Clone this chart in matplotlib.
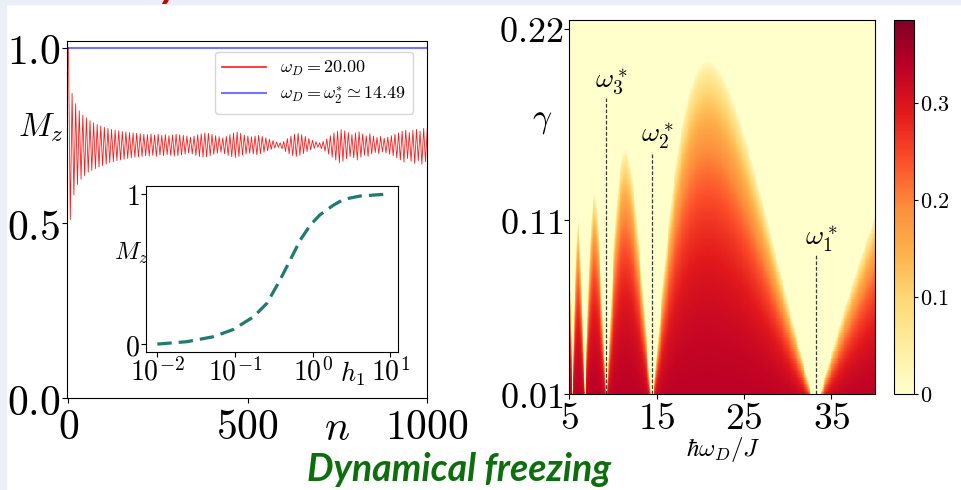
import numpy as np
import matplotlib
matplotlib.use("Agg")
import matplotlib.pyplot as plt
from matplotlib.patches import Rectangle
from matplotlib.ticker import NullLocator

plt.rcParams["mathtext.fontset"] = "cm"

# --- left panel: M_z(n), one low/high pair per drive cycle
mz_low = [0.510, 0.580, 0.610, 0.625, 0.635, 0.645, 0.650, 0.655, 0.660, 0.664,
          0.668, 0.672, 0.675, 0.678, 0.680, 0.682, 0.684, 0.686, 0.688, 0.689,
          0.690, 0.692, 0.691, 0.693, 0.690, 0.694, 0.692, 0.695, 0.693, 0.691,
          0.692, 0.694, 0.697, 0.700, 0.697, 0.693, 0.690, 0.688, 0.689, 0.692,
          0.696, 0.699, 0.702, 0.698, 0.693, 0.689, 0.687, 0.690, 0.694, 0.697,
          0.699, 0.697, 0.695, 0.698, 0.702, 0.706, 0.710, 0.714, 0.716, 0.712,
          0.704, 0.697, 0.692, 0.690, 0.693, 0.698, 0.704, 0.709, 0.713, 0.716,
          0.712, 0.705, 0.697, 0.688, 0.680, 0.672, 0.676, 0.684, 0.690, 0.686,
          0.680, 0.688, 0.694, 0.690, 0.697, 0.701, 0.698, 0.703, 0.700, 0.696,
          0.692, 0.686, 0.680, 0.674, 0.684, 0.676, 0.670, 0.678, 0.668, 0.675]
mz_high = [0.870, 0.840, 0.820, 0.808, 0.800, 0.792, 0.786, 0.781, 0.777, 0.773,
           0.770, 0.767, 0.765, 0.763, 0.761, 0.760, 0.758, 0.757, 0.756, 0.755,
           0.753, 0.752, 0.754, 0.751, 0.753, 0.750, 0.752, 0.749, 0.751, 0.753,
           0.752, 0.750, 0.748, 0.745, 0.748, 0.752, 0.755, 0.757, 0.756, 0.753,
           0.749, 0.746, 0.743, 0.747, 0.752, 0.757, 0.759, 0.756, 0.751, 0.748,
           0.746, 0.748, 0.750, 0.747, 0.743, 0.739, 0.735, 0.731, 0.729, 0.733,
           0.741, 0.748, 0.753, 0.756, 0.752, 0.747, 0.741, 0.736, 0.732, 0.729,
           0.733, 0.740, 0.749, 0.757, 0.762, 0.766, 0.763, 0.758, 0.752, 0.757,
           0.760, 0.754, 0.749, 0.755, 0.748, 0.744, 0.747, 0.742, 0.745, 0.749,
           0.753, 0.757, 0.762, 0.765, 0.758, 0.764, 0.767, 0.762, 0.770, 0.768]
cycle_len = 10
n_frozen = [0, 1000]
mz_frozen = [1.0, 1.0]

# --- inset: M_z vs h_1 (log10 h_1)
h1_log = [-2.0, -1.62, -1.28, -1.02, -0.76, -0.59, -0.42, -0.29, -0.16, -0.03,
          0.09, 0.27, 0.40, 0.61, 0.91]
mz_h1 = [0.0, 0.016, 0.049, 0.098, 0.183, 0.272, 0.428, 0.561, 0.695, 0.795,
         0.862, 0.929, 0.967, 0.989, 1.0]

# --- right panel: phase map parameters
h_drive = 80.0          # 2 h0 / hbar, zeros at omega* = h_drive / j_k
gamma_scale = 0.5       # lobe edge gamma_c = gamma_scale * |J0(h_drive / omega)|
order_max = 0.335
omega_star = [33.26, 14.49, 9.24]
omega_star_top = [0.090, 0.149, 0.180]
omega_star_labels = [r"$\omega_1^*$", r"$\omega_2^*$", r"$\omega_3^*$"]
cbar_ticks = [0, 0.1, 0.2, 0.3]


def build_series():
    n = [0]
    mz = [1.0]
    for k in range(len(mz_low)):
        n += [cycle_len * k + cycle_len / 2, cycle_len * (k + 1)]
        mz += [mz_low[k], mz_high[k]]
    return n, mz


fig = plt.figure(figsize=(9.61, 4.90), dpi=100)
fig.add_artist(Rectangle((0, 0.992), 1, 0.008, transform=fig.transFigure,
                         color="#eceef8", zorder=0))
fig.add_artist(Rectangle((0, 0), 0.0065, 1, transform=fig.transFigure,
                         color="#eceef8", zorder=0))
# tail of the slide title, cut by the top edge
fig.text(160 / 961, 1 + 3 / 490, "y", color="#cc0000", fontsize=30,
         fontweight="bold", fontstyle="italic", family="Lato",
         ha="left", va="baseline")

# left panel
ax = fig.add_axes([0.0694, 0.1871, 0.3752, 0.7298])
n, mz = build_series()
ax.plot(n, mz, color="#ff1a1a", lw=0.6, label=r"$\omega_D = 20.00$")
ax.plot(n_frozen, mz_frozen, color="blue", alpha=0.55, lw=1.5,
        label=r"$\omega_D = \omega_2^{*} \simeq 14.49$")
ax.set_xlim(-5, 1000)
ax.set_ylim(0, 1.02)
ax.set_xticks([0, 500, 1000], ["$0$", "$500$", "$1000$"], fontsize=30)
ax.set_yticks([0, 0.5, 1.0], ["$0.0$", "$0.5$", "$1.0$"], fontsize=30)
ax.tick_params(axis="y", pad=1)
ax.tick_params(axis="x", pad=2)
ax.text(-0.01, 0.756, "$M_z$", fontsize=24, ha="right", va="center",
        transform=ax.transAxes)
ax.text(0.7496, -0.083, "$n$", fontsize=30, ha="center", va="center",
        transform=ax.transAxes)
leg = ax.legend(loc="upper right", bbox_to_anchor=(0.961, 0.969),
                borderaxespad=0, fontsize=13, handlelength=2.4,
                labelspacing=0.35)
leg.get_lines()[0].set_linewidth(1.2)

# inset
axi = fig.add_axes([0.1516, 0.2822, 0.2629, 0.3382])
axi.plot(10 ** np.array(h1_log), mz_h1, color="#1f7a70", lw=2.3,
         dashes=(4.5, 2.2))
axi.set_xscale("log")
axi.set_xlim(10 ** -2.15, 10 ** 1.103)
axi.set_ylim(-0.051, 1.056)
axi.set_xticks([1e-2, 1e-1, 1, 10],
               ["$10^{-2}$", "$10^{-1}$", "$10^{0}$", "$10^{1}$"], fontsize=20)
axi.xaxis.set_minor_locator(NullLocator())
axi.set_yticks([0, 1], ["$0$", "$1$"], fontsize=20)
axi.tick_params(axis="y", pad=1)
axi.tick_params(axis="x", pad=1)
axi.text(0.01, 0.596, "$M_z$", fontsize=18, ha="right", va="center",
         transform=axi.transAxes)
axi.text(0.817, -0.05, "$h_1$", fontsize=19, ha="center", va="top",
         transform=axi.transAxes)

# right panel: heat map
axh = fig.add_axes([0.5924, 0.1959, 0.3181, 0.7633])
omega = np.linspace(5, 40, 351)
gamma = np.linspace(0.01, 0.225, 216)
theta = np.linspace(0, np.pi, 721)
bessel = np.trapezoid(np.cos((h_drive / omega)[:, None] * np.sin(theta)),
                      theta, axis=1) / np.pi
gamma_c = gamma_scale * np.abs(bessel)
ratio = gamma[:, None] / np.maximum(gamma_c[None, :], 1e-9)
field = order_max * np.clip(1 - ratio ** 2, 0, 1) ** 0.7
im = axh.imshow(field, origin="lower", extent=[5, 40, 0.01, 0.225],
                aspect="auto", cmap="YlOrRd", vmin=0, vmax=0.385,
                interpolation="nearest")
for w, top, lab in zip(omega_star, omega_star_top, omega_star_labels):
    axh.plot([w, w], [0.01, top], color="#3a3a3a", lw=0.9,
             ls=(0, (3, 1.5)))
    axh.text(w + 0.6, top + 0.0095, lab, fontsize=20, ha="center",
             va="center")
axh.set_xlim(5, 40)
axh.set_ylim(0.01, 0.225)
axh.set_xticks([5, 15, 25, 35], ["$5$", "$15$", "$25$", "$35$"], fontsize=27)
axh.set_yticks([0.01, 0.11, 0.22], ["$0.01$", "$0.11$", "$0.22$"], fontsize=26)
axh.tick_params(axis="y", pad=1)
axh.tick_params(axis="x", pad=1.5)
axh.text(0.503, -0.148, r"$\hbar\omega_D/J$", fontsize=18, ha="center",
         va="center", transform=axh.transAxes)
axh.text(-0.09, 0.733, r"$\gamma$", fontsize=24, ha="center", va="center",
         transform=axh.transAxes)

cax = fig.add_axes([0.9303, 0.1959, 0.0211, 0.7633])
cb = fig.colorbar(im, cax=cax, ticks=cbar_ticks)
cb.ax.set_yticklabels(["$0$", "$0.1$", "$0.2$", "$0.3$"], fontsize=16)
cb.ax.tick_params(pad=1, length=3)

fig.text(0.4776, 9 / 490, "Dynamical freezing", color="#0d6e0d", fontsize=27,
         fontweight="bold", fontstyle="italic", family="Lato",
         ha="center", va="baseline")

fig.savefig("out.png", dpi=100)
